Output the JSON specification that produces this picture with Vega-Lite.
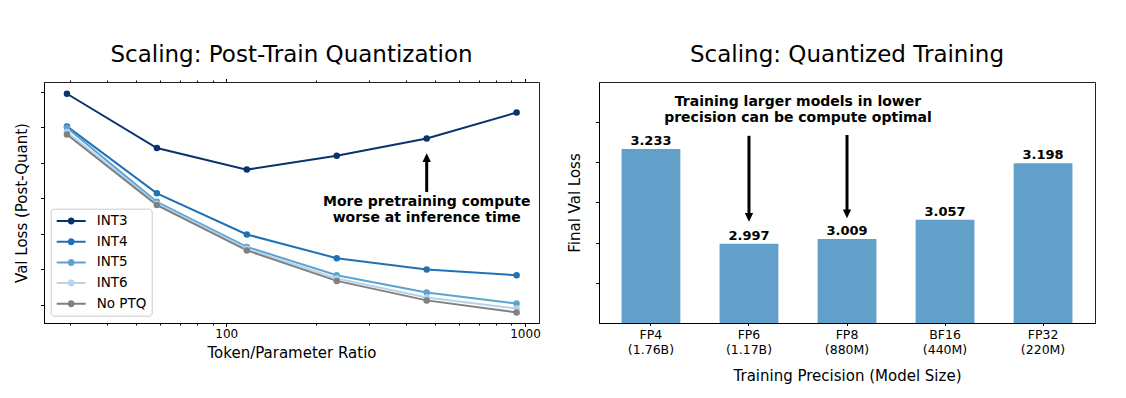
{
  "$schema": "https://vega.github.io/schema/vega-lite/v6.json",
  "background": "white",
  "padding": {"left": 13, "top": 43, "right": 5, "bottom": 5},
  "spacing": 25,
  "config": {
    "font": "DejaVu Sans",
    "view": {"stroke": "#222222", "strokeWidth": 1},
    "title": {"fontSize": 23, "fontWeight": "normal", "color": "#000000", "font": "DejaVu Sans", "anchor": "middle", "baseline": "alphabetic"},
    "axis": {"domainColor": "#000000", "tickColor": "#000000", "labelColor": "#000000", "titleColor": "#000000", "labelFont": "DejaVu Sans", "titleFont": "DejaVu Sans", "labelFontSize": 12, "titleFontSize": 15, "titleFontWeight": "normal", "grid": false, "tickSize": 3.5, "domainWidth": 1, "tickWidth": 1}
  },
  "datasets": {
    "ptq": [
      {"series": "INT3", "ratio": 29.3, "loss": 3.595},
      {"series": "INT3", "ratio": 58.6, "loss": 3.442},
      {"series": "INT3", "ratio": 117.2, "loss": 3.381},
      {"series": "INT3", "ratio": 234.4, "loss": 3.420},
      {"series": "INT3", "ratio": 468.8, "loss": 3.469},
      {"series": "INT3", "ratio": 937.5, "loss": 3.542},
      {"series": "INT4", "ratio": 29.3, "loss": 3.503},
      {"series": "INT4", "ratio": 58.6, "loss": 3.314},
      {"series": "INT4", "ratio": 117.2, "loss": 3.198},
      {"series": "INT4", "ratio": 234.4, "loss": 3.131},
      {"series": "INT4", "ratio": 468.8, "loss": 3.099},
      {"series": "INT4", "ratio": 937.5, "loss": 3.083},
      {"series": "INT5", "ratio": 29.3, "loss": 3.499},
      {"series": "INT5", "ratio": 58.6, "loss": 3.290},
      {"series": "INT5", "ratio": 117.2, "loss": 3.163},
      {"series": "INT5", "ratio": 234.4, "loss": 3.083},
      {"series": "INT5", "ratio": 468.8, "loss": 3.034},
      {"series": "INT5", "ratio": 937.5, "loss": 3.003},
      {"series": "INT6", "ratio": 29.3, "loss": 3.487},
      {"series": "INT6", "ratio": 58.6, "loss": 3.285},
      {"series": "INT6", "ratio": 117.2, "loss": 3.158},
      {"series": "INT6", "ratio": 234.4, "loss": 3.074},
      {"series": "INT6", "ratio": 468.8, "loss": 3.020},
      {"series": "INT6", "ratio": 937.5, "loss": 2.989},
      {"series": "No PTQ", "ratio": 29.3, "loss": 3.480},
      {"series": "No PTQ", "ratio": 58.6, "loss": 3.281},
      {"series": "No PTQ", "ratio": 117.2, "loss": 3.153},
      {"series": "No PTQ", "ratio": 234.4, "loss": 3.067},
      {"series": "No PTQ", "ratio": 468.8, "loss": 3.012},
      {"series": "No PTQ", "ratio": 937.5, "loss": 2.978}
    ],
    "qt": [
      {"label": "FP4\n(1.76B)", "loss": 3.233},
      {"label": "FP6\n(1.17B)", "loss": 2.997},
      {"label": "FP8\n(880M)", "loss": 3.009},
      {"label": "BF16\n(440M)", "loss": 3.057},
      {"label": "FP32\n(220M)", "loss": 3.198}
    ]
  },
  "hconcat": [
    {
      "width": 495,
      "height": 241,
      "title": {"text": "Scaling: Post-Train Quantization", "offset": 11.5},
      "layer": [
        {
          "data": {"name": "ptq"},
          "mark": {"type": "line", "strokeWidth": 2},
          "encoding": {
            "x": {"field": "ratio", "type": "quantitative",
              "scale": {"type": "log", "domain": [24.55, 1114], "nice": false},
              "axis": {"orient": "bottom", "title": "Token/Parameter Ratio",
                "values": [30, 40, 50, 60, 70, 80, 90, 100, 200, 300, 400, 500, 600, 700, 800, 900, 1000],
                "labelExpr": "datum.value == 100 || datum.value == 1000 ? format(datum.value, 'd') : ''",
                "tickSize": {"condition": {"test": "datum.value == 100 || datum.value == 1000", "value": 3.5}, "value": 2},
                "labelPadding": 2, "titlePadding": 6, "labelFlush": false, "labelOverlap": false}},
            "y": {"field": "loss", "type": "quantitative",
              "scale": {"domain": [2.9482, 3.6282], "nice": false, "zero": false},
              "axis": {"orient": "left", "title": "Val Loss (Post-Quant)", "values": [3.0, 3.1, 3.2, 3.3, 3.4, 3.5, 3.6], "labels": false, "titlePadding": 11}},
            "color": {"field": "series", "type": "nominal",
              "scale": {"domain": ["INT3", "INT4", "INT5", "INT6", "No PTQ"], "range": ["#0a326f", "#2171b5", "#5ba3d3", "#b5d4ec", "#808080"]},
              "legend": {"orient": "none", "legendX": 6.7, "legendY": 126.7, "title": null,
                "symbolType": "M-0.9,-0.143H3.24V0.143H-0.9Z M1.67,0A0.5,0.5 0 1,1 0.67,0A0.5,0.5 0 1,1 1.67,0Z",
                "symbolSize": 196, "symbolStrokeWidth": 0, "symbolOpacity": 1,
                "labelFontSize": 13.5, "labelFont": "DejaVu Sans", "labelColor": "#000000", "labelOffset": 26.7,
                "rowPadding": 6.7, "padding": 5.3, "fillColor": "white", "strokeColor": "#cccccc", "cornerRadius": 3, "labelLimit": 200}}
          }
        },
        {
          "data": {"name": "ptq"},
          "mark": {"type": "point", "filled": true, "size": 42, "opacity": 1},
          "encoding": {
            "x": {"field": "ratio", "type": "quantitative",
              "axis": {"orient": "top", "title": null, "labels": false,
                "values": [30, 40, 50, 60, 70, 80, 90, 100, 200, 300, 400, 500, 600, 700, 800, 900, 1000],
                "tickSize": {"condition": {"test": "datum.value == 100 || datum.value == 1000", "value": 3.5}, "value": 2},
                "domain": false}},
            "y": {"field": "loss", "type": "quantitative", "axis": null},
            "color": {"field": "series", "type": "nominal"}
          }
        },
        {
          "data": {"values": [{"ratio": 468.8, "from": 3.318, "to": 3.41}]},
          "mark": {"type": "rule", "strokeWidth": 3, "color": "#000000"},
          "encoding": {
            "x": {"field": "ratio", "type": "quantitative", "axis": null},
            "y": {"field": "from", "type": "quantitative", "axis": null},
            "y2": {"field": "to"}
          }
        },
        {
          "data": {"values": [{"ratio": 468.8, "tip": 3.427}]},
          "mark": {"type": "point", "shape": "M0,0L-1,2.1L1,2.1Z", "size": 70, "filled": true, "color": "#000000", "opacity": 1, "strokeWidth": 0},
          "encoding": {
            "x": {"field": "ratio", "type": "quantitative", "axis": null},
            "y": {"field": "tip", "type": "quantitative", "axis": null}
          }
        },
        {
          "data": {"values": [{"ratio": 468.8, "pos": 3.2777, "note": "More pretraining compute\nworse at inference time"}]},
          "mark": {"type": "text", "fontWeight": "bold", "fontSize": 14, "font": "DejaVu Sans", "align": "center", "baseline": "alphabetic", "lineBreak": "\n", "lineHeight": 15.5, "color": "#000000"},
          "encoding": {
            "x": {"field": "ratio", "type": "quantitative", "axis": null},
            "y": {"field": "pos", "type": "quantitative", "axis": null},
            "text": {"field": "note"}
          }
        }
      ],
      "resolve": {"axis": {"x": "independent", "y": "independent"}}
    },
    {
      "width": 496,
      "height": 241,
      "title": {"text": "Scaling: Quantized Training", "offset": 15},
      "layer": [
        {
          "data": {"name": "qt"},
          "mark": {"type": "bar", "color": "#62a0ca"},
          "encoding": {
            "x": {"field": "label", "type": "nominal", "sort": null,
              "scale": {"paddingInner": 0.4, "paddingOuter": 0.23},
              "axis": {"orient": "bottom", "title": "Training Precision (Model Size)", "labelAngle": 0, "labelExpr": "split(datum.label, '\\n')", "labelFontSize": 12.5, "tickSize": 2.5, "labelPadding": 3, "labelLineHeight": 14.5, "titlePadding": 13}},
            "y": {"field": "loss", "type": "quantitative",
              "scale": {"domain": [2.8, 3.4], "zero": false, "nice": false},
              "axis": {"orient": "left", "title": "Final Val Loss", "values": [2.9, 3.0, 3.1, 3.2, 3.3], "labels": false, "titlePadding": 12.8}},
            "y2": {"datum": 2.8}
          }
        },
        {
          "data": {"name": "qt"},
          "mark": {"type": "text", "fontWeight": "bold", "fontSize": 13, "font": "DejaVu Sans", "baseline": "alphabetic", "dy": -4, "color": "#000000"},
          "encoding": {
            "x": {"field": "label", "type": "nominal", "sort": null, "axis": null},
            "y": {"field": "loss", "type": "quantitative", "axis": null},
            "text": {"field": "loss", "format": ".3f"}
          }
        },
        {
          "data": {"values": [{"label": "FP6\n(1.17B)", "from": 3.266, "to": 3.07}, {"label": "FP8\n(880M)", "from": 3.268, "to": 3.079}]},
          "mark": {"type": "rule", "strokeWidth": 3, "color": "#000000"},
          "encoding": {
            "x": {"field": "label", "type": "nominal", "sort": null, "axis": null},
            "y": {"field": "from", "type": "quantitative", "axis": null},
            "y2": {"field": "to"}
          }
        },
        {
          "data": {"values": [{"label": "FP6\n(1.17B)", "tip": 3.052}, {"label": "FP8\n(880M)", "tip": 3.061}]},
          "mark": {"type": "point", "shape": "M0,0L-1,-2.1L1,-2.1Z", "size": 70, "filled": true, "color": "#000000", "opacity": 1, "strokeWidth": 0},
          "encoding": {
            "x": {"field": "label", "type": "nominal", "sort": null, "axis": null},
            "y": {"field": "tip", "type": "quantitative", "axis": null}
          }
        },
        {
          "data": {"values": [{"label": "FP6\n(1.17B)", "pos": 3.3393, "note": "Training larger models in lower\nprecision can be compute optimal"}]},
          "mark": {"type": "text", "fontWeight": "bold", "fontSize": 14, "font": "DejaVu Sans", "align": "center", "baseline": "alphabetic", "lineBreak": "\n", "lineHeight": 15.5, "dx": 49, "color": "#000000"},
          "encoding": {
            "x": {"field": "label", "type": "nominal", "sort": null, "axis": null},
            "y": {"field": "pos", "type": "quantitative", "axis": null},
            "text": {"field": "note"}
          }
        }
      ],
      "resolve": {"axis": {"x": "independent", "y": "independent"}}
    }
  ]
}
